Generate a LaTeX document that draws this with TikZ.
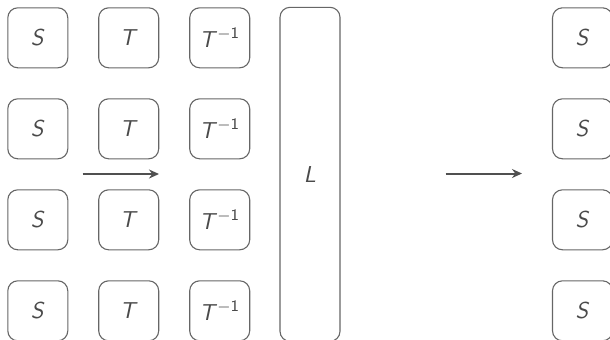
\documentclass[tikz,border=0pt]{standalone}
\usepackage{tikz}
\usetikzlibrary{arrows.meta}

\definecolor{boxgray}{HTML}{666666}
\definecolor{textgray}{HTML}{4A4A4A}
\definecolor{arrowgray}{HTML}{505050}

\newcommand{\glyph}[1]{\textsf{\textit{#1}}}
\newcommand{\inv}{\glyph{T}$^{-\mathsf{1}}$}

\begin{document}
\begin{tikzpicture}[
    x=0.5pt, y=-0.5pt,
    every node/.style={font=\sffamily\fontsize{11.5}{14}\selectfont, text=textgray},
    gate/.style={
        draw=boxgray,
        line width=0.55pt,
        rounded corners=5pt,
        minimum width=30pt,
        minimum height=30pt,
        inner sep=0pt
    },
    flow/.style={
        -{Stealth[length=5pt,width=4.5pt]},
        line width=1pt,
        draw=arrowgray
    }
]
    \useasboundingbox (0,0) rectangle (610,339);

    % Left block: S, T, T^{-1}
    \node[gate] (s1) at (37.8,37.8) {\glyph{S}};
    \node[gate] (t1) at (128.7,37.8) {\glyph{T}};
    \node[gate] (ti1) at (219.7,37.8) {\inv};

    \node[gate] (s2) at (37.8,128.8) {\glyph{S}};
    \node[gate] (t2) at (128.7,128.8) {\glyph{T}};
    \node[gate] (ti2) at (219.7,128.8) {\inv};

    \node[gate] (s3) at (37.8,219.8) {\glyph{S}};
    \node[gate] (t3) at (128.7,219.8) {\glyph{T}};
    \node[gate] (ti3) at (219.7,219.8) {\inv};

    \node[gate] (s4) at (37.8,310.8) {\glyph{S}};
    \node[gate] (t4) at (128.7,310.8) {\glyph{T}};
    \node[gate] (ti4) at (219.7,310.8) {\inv};

    % Tall L block
    \node[gate, minimum height=167pt] (ell) at (310,174.3) {\glyph{L}};

    % Right column
    \node[gate] (r1) at (582.5,37.8) {\glyph{S}};
    \node[gate] (r2) at (582.5,128.8) {\glyph{S}};
    \node[gate] (r3) at (582.5,219.8) {\glyph{S}};
    \node[gate] (r4) at (582.5,310.8) {\glyph{S}};

    % Arrows
    \coordinate (a1) at (82.7,174);
    \coordinate (b1) at (159,174);
    \coordinate (a2) at (445.7,173.5);
    \coordinate (b2) at (522,173.5);
    \draw[flow] (a1) -- (b1);
    \draw[flow] (a2) -- (b2);

\end{tikzpicture}
\end{document}
